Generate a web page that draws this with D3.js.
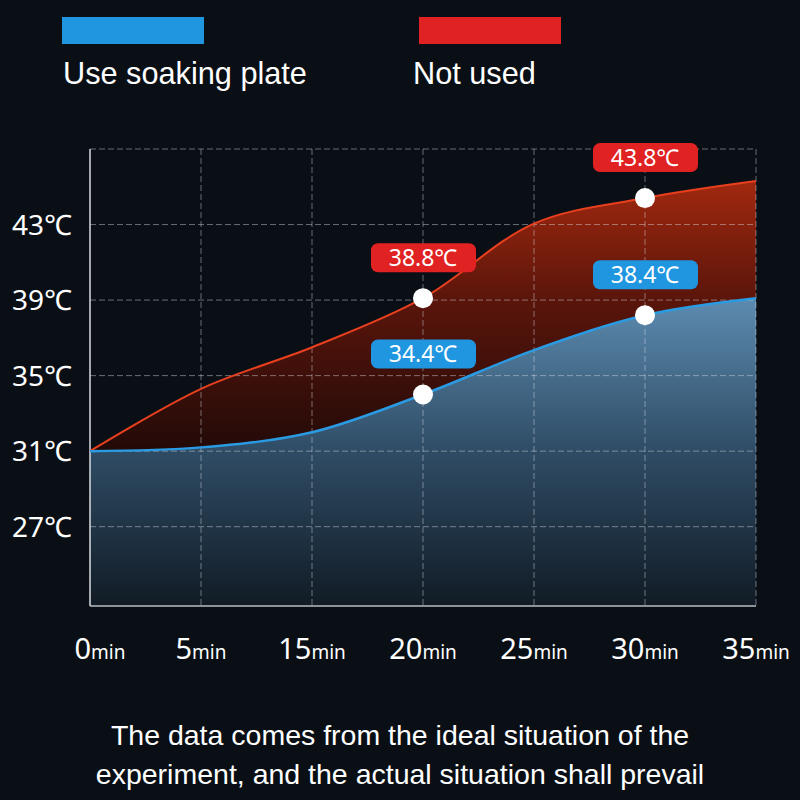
<!DOCTYPE html>
<html>
<head>
<meta charset="utf-8">
<script src="https://cdn.jsdelivr.net/npm/d3@7"></script>
<style>
  html, body { margin: 0; padding: 0; background: #0a0f16; }
  svg { display: block; }
</style>
</head>
<body>
<div id="chart"></div>
<script>
// Data
var minutes = ["0", "5", "15", "20", "25", "30", "35"];
var soaking = [31.0, 31.2, 32.0, 34.0, 36.35, 38.2, 39.1];
var notUsed = [31.0, 34.3, 36.5, 39.1, 43.05, 44.4, 45.3];
var yTicks = [27, 31, 35, 39, 43];
var seriesNames = ["Use soaking plate", "Not used"];
var callouts = [
  {series: 1, index: 3, text: "38.8℃"},
  {series: 0, index: 3, text: "34.4℃"},
  {series: 1, index: 5, text: "43.8℃"},
  {series: 0, index: 5, text: "38.4℃"}
];
var footer = [
  "The data comes from the ideal situation of the",
  "experiment, and the actual situation shall prevail"
];

var w = 800, h = 800;
var margin = {top: 149, right: 44, bottom: 194, left: 90};
var colors = ["#2196e0", "#e02222"];

var svg = d3.select("#chart").append("svg")
  .attr("width", w)
  .attr("height", h);

svg.append("rect").attr("width", w).attr("height", h).attr("fill", "#0a0f16");

var x = d3.scalePoint()
  .domain(d3.range(minutes.length))
  .range([margin.left, w - margin.right]);

var y = d3.scaleLinear()
  .domain([22.8, 47])
  .range([h - margin.bottom, margin.top]);

// Gradients
var defs = svg.append("defs");
var gBlue = defs.append("linearGradient").attr("id", "gBlue")
  .attr("gradientUnits", "userSpaceOnUse")
  .attr("x1", 0).attr("x2", 0).attr("y1", y(39.2)).attr("y2", y(22.8));
gBlue.append("stop").attr("offset", 0).attr("stop-color", "#5d8cb1");
gBlue.append("stop").attr("offset", 0.5).attr("stop-color", "#2f4c65");
gBlue.append("stop").attr("offset", 1).attr("stop-color", "#111b25");

var gRed = defs.append("linearGradient").attr("id", "gRed")
  .attr("gradientUnits", "userSpaceOnUse")
  .attr("x1", 0).attr("x2", 0).attr("y1", y(45.5)).attr("y2", y(31));
gRed.append("stop").attr("offset", 0).attr("stop-color", "#a3290f");
gRed.append("stop").attr("offset", 0.45).attr("stop-color", "#5a150b");
gRed.append("stop").attr("offset", 1).attr("stop-color", "#220a08");

var curve = d3.curveCatmullRom.alpha(0.5);

// Areas
var blueArea = d3.area()
  .x(function(d, i) { return x(i); })
  .y0(y(22.8))
  .y1(function(d) { return y(d); })
  .curve(curve);

var redArea = d3.area()
  .x(function(d, i) { return x(i); })
  .y0(function(d, i) { return y(soaking[i]); })
  .y1(function(d) { return y(d); })
  .curve(curve);

svg.append("path").datum(notUsed).attr("d", redArea).attr("fill", "url(#gRed)");
svg.append("path").datum(soaking).attr("d", blueArea).attr("fill", "url(#gBlue)");

// Gridlines
var grid = svg.append("g").attr("stroke", "rgba(220,225,230,0.45)")
  .attr("stroke-width", 1).attr("stroke-dasharray", "6,3");

yTicks.concat([47]).forEach(function(t) {
  grid.append("line")
    .attr("x1", margin.left).attr("x2", w - margin.right)
    .attr("y1", y(t)).attr("y2", y(t));
});
d3.range(1, minutes.length).forEach(function(i) {
  grid.append("line")
    .attr("x1", x(i)).attr("x2", x(i))
    .attr("y1", margin.top).attr("y2", h - margin.bottom);
});

// Axis lines
svg.append("line")
  .attr("x1", margin.left).attr("x2", margin.left)
  .attr("y1", margin.top).attr("y2", h - margin.bottom)
  .attr("stroke", "#d8dde2").attr("stroke-width", 1.5);
svg.append("line")
  .attr("x1", margin.left).attr("x2", w - margin.right)
  .attr("y1", h - margin.bottom).attr("y2", h - margin.bottom)
  .attr("stroke", "#b8bec4").attr("stroke-width", 1.5);

// Lines
var line = d3.line()
  .x(function(d, i) { return x(i); })
  .y(function(d) { return y(d); })
  .curve(curve);

svg.append("path").datum(notUsed).attr("d", line)
  .attr("fill", "none").attr("stroke", "#e8401f").attr("stroke-width", 2);
svg.append("path").datum(soaking).attr("d", line)
  .attr("fill", "none").attr("stroke", "#2a9be3").attr("stroke-width", 2.5);

// Y labels
svg.append("g").selectAll("text")
  .data(yTicks)
  .join("text")
  .attr("x", 72)
  .attr("y", function(d) { return y(d); })
  .attr("dy", "0.36em")
  .attr("text-anchor", "end")
  .attr("fill", "#ffffff")
  .style("font-family", "'Noto Sans', sans-serif")
  .style("font-size", "28px")
  .text(function(d) { return d + "℃"; });

// X labels
var xl = svg.append("g").selectAll("text")
  .data(minutes)
  .join("text")
  .attr("x", function(d, i) { return x(i) + (i === 0 ? 10 : 0); })
  .attr("y", 659)
  .attr("text-anchor", "middle")
  .attr("fill", "#ffffff")
  .style("font-family", "'Noto Sans', sans-serif");
xl.append("tspan").style("font-size", "29px").text(function(d) { return d; });
xl.append("tspan").style("font-size", "19px").text("min");

// Callouts
var series = [soaking, notUsed];
var co = svg.append("g").selectAll("g")
  .data(callouts)
  .join("g")
  .attr("transform", function(d) {
    return "translate(" + x(d.index) + "," + y(series[d.series][d.index]) + ")";
  });
co.append("rect")
  .attr("x", -52).attr("y", -55)
  .attr("width", 105).attr("height", 29)
  .attr("rx", 7)
  .attr("fill", function(d) { return colors[d.series]; });
co.append("text")
  .attr("y", -40.5)
  .attr("dy", "0.36em")
  .attr("text-anchor", "middle")
  .attr("fill", "#ffffff")
  .style("font-family", "'Noto Sans', sans-serif")
  .style("font-size", "23px")
  .text(function(d) { return d.text; });
co.append("circle")
  .attr("r", 10)
  .attr("fill", "#ffffff");

// Legend
var legend = svg.append("g").selectAll("g")
  .data(seriesNames)
  .join("g")
  .attr("transform", function(d, i) { return "translate(" + (i === 0 ? 62 : 419) + ",0)"; });
legend.append("rect")
  .attr("y", 17).attr("width", 142).attr("height", 27)
  .attr("fill", function(d, i) { return colors[i]; });
legend.append("text")
  .attr("x", function(d, i) { return i === 0 ? 1 : -6; })
  .attr("y", 84)
  .attr("fill", "#ffffff")
  .style("font-family", "'Liberation Sans', Arial, sans-serif")
  .style("font-size", "30.7px")
  .text(function(d) { return d; });

// Footer
svg.append("g").selectAll("text")
  .data(footer)
  .join("text")
  .attr("x", w / 2)
  .attr("y", function(d, i) { return 745 + i * 39; })
  .attr("text-anchor", "middle")
  .attr("fill", "#ffffff")
  .style("font-family", "'Liberation Sans', Arial, sans-serif")
  .style("font-size", "28.5px")
  .text(function(d) { return d; });
</script>
</body>
</html>
